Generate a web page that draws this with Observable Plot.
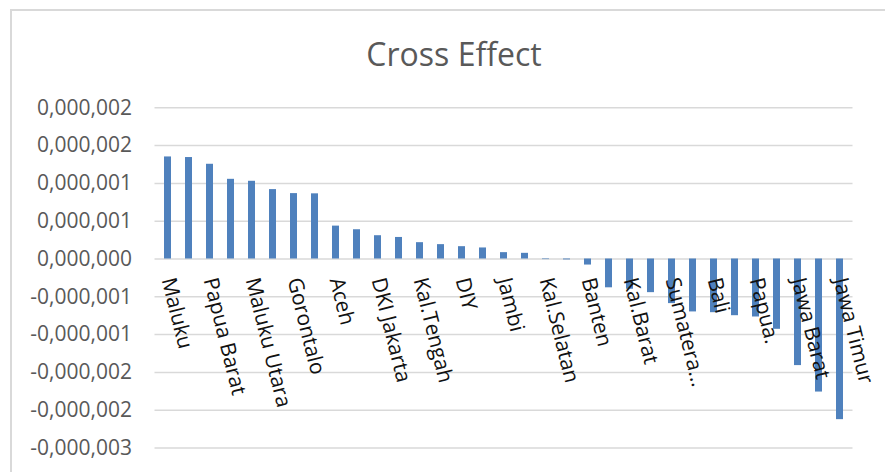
<!DOCTYPE html>
<html>
<head>
<meta charset="utf-8">
<script src="https://cdn.jsdelivr.net/npm/d3@7"></script>
<script src="https://cdn.jsdelivr.net/npm/@observablehq/plot@0.6"></script>
<style>
  html, body { margin: 0; padding: 0; background: #fff; }
  #wrap { position: relative; width: 885px; height: 472px; overflow: hidden; }
  #frame {
    position: absolute; left: 10px; top: 9px; width: 900px; height: 500px;
    border-left: 2px solid #d9d9d9; border-top: 2px solid #d9d9d9;
    box-sizing: border-box;
  }
  #chart { position: absolute; left: 0; top: 0; }
</style>
</head>
<body>
<div id="wrap">
  <div id="frame"></div>
  <div id="chart"></div>
</div>
<script>
// Cross effect per province, sorted from largest to smallest
const crossEffect = [
  1.350e-6, 1.342e-6, 1.253e-6, 1.054e-6, 1.028e-6, 0.918e-6, 0.865e-6, 0.862e-6,
  0.435e-6, 0.387e-6, 0.308e-6, 0.285e-6, 0.216e-6, 0.190e-6, 0.163e-6, 0.146e-6,
  0.084e-6, 0.075e-6, -0.008e-6, -0.012e-6, -0.080e-6, -0.381e-6, -0.400e-6, -0.445e-6,
  -0.590e-6, -0.700e-6, -0.710e-6, -0.750e-6, -0.767e-6, -0.930e-6, -1.410e-6, -1.760e-6,
  -2.125e-6
];

// Category labels shown on every second bar
const provinceLabels = [
  "Maluku", "Papua Barat", "Maluku Utara", "Gorontalo", "Aceh", "DKI Jakarta",
  "Kal.Tengah", "DIY", "Jambi", "Kal.Selatan", "Banten", "Kal.Barat",
  "Sumatera...", "Bali", "Papua.", "Jawa Barat", "Jawa Timur"
];

// Value axis ticks and their printed labels
const tickValues = [2.0e-6, 1.5e-6, 1.0e-6, 0.5e-6, 0, -0.5e-6, -1.0e-6, -1.5e-6, -2.0e-6, -2.5e-6];
const tickLabels = [
  "0,000,002", "0,000,002", "0,000,001", "0,000,001", "0,000,000",
  "-0,000,001", "-0,000,001", "-0,000,002", "-0,000,002", "-0,000,003"
];

const chartTitle = "Cross Effect";

const bars = crossEffect.map((v, i) => ({index: i, value: v}));
const labelRows = provinceLabels.map((name, i) => ({index: i * 2, name}));
const tickText = d => tickLabels[tickValues.findIndex(t => Math.abs(t - d) < 1e-12)];

const chart = Plot.plot({
  width: 885,
  height: 472,
  marginLeft: 154.5,
  marginRight: 32.5,
  marginTop: 107.3,
  marginBottom: 24.5,
  style: {
    fontFamily: "'Open Sans', sans-serif",
    background: "transparent",
    overflow: "visible"
  },
  x: {
    type: "band",
    domain: d3.range(crossEffect.length),
    paddingInner: 0.69,
    paddingOuter: 0.345,
    axis: null
  },
  y: {
    domain: [-2.5e-6, 2.0e-6],
    axis: null
  },
  marks: [
    Plot.gridY(tickValues, {stroke: "#d9d9d9", strokeOpacity: 1, strokeWidth: 1.5}),
    Plot.barY(bars, {x: "index", y: "value", fill: "#4f81bd"}),
    Plot.axisY(tickValues, {
      tickSize: 0,
      tickPadding: 23,
      fontSize: 21,
      fill: "#595959",
      tickFormat: tickText,
      label: null
    }),
    Plot.text(labelRows, {
      x: "index",
      y: () => 0,
      text: "name",
      dy: 19,
      rotate: 76,
      textAnchor: "start",
      lineAnchor: "middle",
      fontSize: 21,
      fill: "#111"
    }),
    Plot.text([chartTitle], {
      frameAnchor: "top",
      lineAnchor: "bottom",
      dx: -50,
      dy: -42,
      fontSize: 32,
      fill: "#595959"
    })
  ]
});

document.getElementById("chart").appendChild(chart);
</script>
</body>
</html>
